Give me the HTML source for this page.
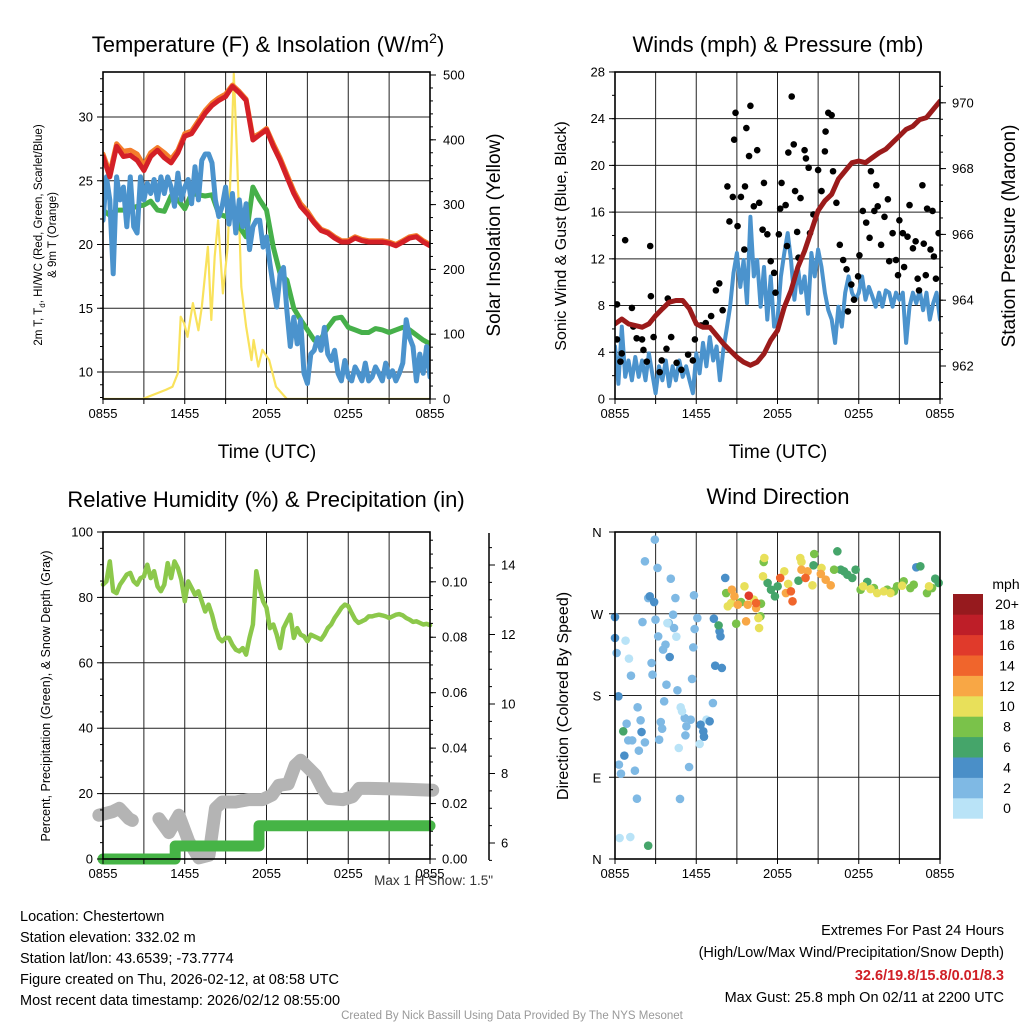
<!DOCTYPE html>
<html><head><meta charset="utf-8">
<style>
html,body{margin:0;padding:0;background:#fff;}
svg{display:block;font-family:"Liberation Sans",Arial,sans-serif;}
</style></head>
<body>
<svg id="fig" width="1024" height="1024" viewBox="0 0 1024 1024" xmlns="http://www.w3.org/2000/svg">
<rect width="1024" height="1024" fill="#fff"/>
<text x="268" y="52" font-size="22" text-anchor="middle">Temperature (F) &amp; Insolation (W/m<tspan font-size="14" dy="-9">2</tspan><tspan dy="9">)</tspan></text>
<text x="778" y="52" font-size="22" text-anchor="middle">Winds (mph) &amp; Pressure (mb)</text>
<text x="266" y="507" font-size="22" text-anchor="middle">Relative Humidity (%) &amp; Precipitation (in)</text>
<text x="778" y="504" font-size="22" text-anchor="middle">Wind Direction</text>

<text transform="translate(42,235) rotate(-90)" font-size="11.5" text-anchor="middle">2m T, T<tspan font-size="8" dy="3">d</tspan><tspan dy="-3">, HI/WC (Red, Green, Scarlet/Blue)</tspan></text>
<text transform="translate(56,235) rotate(-90)" font-size="11.5" text-anchor="middle">&amp; 9m T (Orange)</text>
<text transform="translate(500,235) rotate(-90)" font-size="19" text-anchor="middle">Solar Insolation (Yellow)</text>
<text x="267" y="458" font-size="19" text-anchor="middle">Time (UTC)</text>
<text transform="translate(566,236) rotate(-90)" font-size="16" text-anchor="middle">Sonic Wind &amp; Gust (Blue, Black)</text>
<text transform="translate(1015,236) rotate(-90)" font-size="19" text-anchor="middle">Station Pressure (Maroon)</text>
<text x="778" y="458" font-size="19" text-anchor="middle">Time (UTC)</text>
<text transform="translate(50,696) rotate(-90)" font-size="12.5" text-anchor="middle">Percent, Precipitation (Green), &amp; Snow Depth (Gray)</text>
<text transform="translate(568,696) rotate(-90)" font-size="16" text-anchor="middle">Direction (Colored By Speed)</text>
<text x="493" y="885" font-size="13.5" text-anchor="end" fill="#333">Max 1 H Snow: 1.5"</text>

<g font-size="14.5">
<text x="20" y="921">Location: Chestertown</text>
<text x="20" y="942">Station elevation: 332.02 m</text>
<text x="20" y="963">Station lat/lon: 43.6539; -73.7774</text>
<text x="20" y="984">Figure created on Thu, 2026-02-12, at 08:58 UTC</text>
<text x="20" y="1005">Most recent data timestamp: 2026/02/12 08:55:00</text>
</g>
<g font-size="14.5" text-anchor="end">
<text x="1004" y="935">Extremes For Past 24 Hours</text>
<text x="1004" y="957">(High/Low/Max Wind/Precipitation/Snow Depth)</text>
<text x="1004" y="980" fill="#d01f26" font-weight="bold">32.6/19.8/15.8/0.01/8.3</text>
<text x="1004" y="1002">Max Gust: 25.8 mph On 02/11 at 2200 UTC</text>
</g>
<text x="512" y="1019" font-size="11.5" fill="#999" text-anchor="middle">Created By Nick Bassill Using Data Provided By The NYS Mesonet</text>
<g id="layer"></g>
</svg>
<script>
// ---------- data ----------
const xTickLabels = ["0855","1455","2055","0255","0855"];
const tempRed = [26.9,25.3,27.7,26.9,27.0,26.6,25.8,26.9,27.4,26.8,26.4,27.2,28.5,28.7,29.5,30.3,30.9,31.3,31.6,32.4,31.9,31.3,28.2,28.6,29.0,27.7,26.6,25.3,24.0,23.0,22.4,21.7,21.1,20.9,20.5,20.2,20.2,20.5,20.3,20.2,20.2,20.2,20.1,19.9,20.2,20.5,20.6,20.2,19.9];
const tempOrange = [27.1,25.6,27.9,27.3,27.4,27.1,26.2,27.2,27.6,27.2,26.7,27.4,28.7,28.9,29.7,30.5,31.1,31.5,31.8,32.5,32.0,31.4,28.4,28.7,29.1,27.9,26.8,25.5,24.2,23.2,22.6,21.8,21.2,21.0,20.6,20.3,20.3,20.6,20.4,20.3,20.3,20.3,20.2,20.0,20.3,20.6,20.7,20.3,20.0];
const tempGreen = [22.7,22.3,22.7,22.7,22.8,23.0,23.1,23.4,22.7,22.6,23.8,23.5,22.8,24.0,23.9,23.8,23.9,22.4,22.2,23.0,21.4,20.6,24.5,23.5,22.7,19.8,17.7,17.2,15.0,14.1,13.3,12.5,12.6,13.5,14.2,14.3,13.5,13.3,13.1,13.1,13.4,13.3,13.1,13.3,13.5,13.3,12.9,12.5,12.2];
const tempBlue = [21.9,25.3,23.5,17.7,25.3,23.5,24.5,21.4,25.3,21.4,20.9,25.3,23.5,24.8,24.0,25.1,23.5,25.3,24.0,25.3,24.5,23.0,25.6,23.5,24.5,25.1,23.2,26.1,23.5,26.6,27.1,27.1,26.4,23.5,22.2,23.0,24.5,21.6,24.0,20.9,23.5,21.4,23.2,19.6,21.4,21.9,21.9,19.8,20.6,18.5,16.7,15.1,17.7,18.2,14.8,12.0,14.3,12.2,14.1,9.9,9.1,11.4,11.7,12.7,11.7,13.5,11.4,10.9,11.7,9.9,9.3,10.9,9.6,9.3,10.4,9.9,9.3,10.7,9.3,9.6,10.4,9.9,9.3,10.7,9.6,10.1,9.3,9.9,10.7,14.1,12.7,12.0,9.3,11.4,9.9,12.0,9.6];
const solarHours = [0,2.9,4.6,5.1,5.5,5.7,5.95,6.2,6.6,7.0,7.25,7.7,7.95,8.2,8.45,8.8,9.15,9.4,9.6,9.85,10.15,10.5,10.9,11.05,11.4,11.7,12.2,12.7,13.5,24];
const solarVals = [0,0,14,19,40,127,117,96,148,106,142,235,122,220,276,163,235,369,502,369,173,112,60,91,50,76,60,19,0,0];
const windVals = [4.5,1.3,6.2,1.9,3.3,1.6,3.6,1.9,3.3,1.6,3.9,2.2,0.5,2.8,1.6,3.3,1.1,2.8,1.6,3.3,1.9,2.8,1.6,0.5,3.9,2.2,4.8,2.8,5.3,3.3,4.5,1.6,4.2,6.0,7.9,10.8,12.5,9.6,11.9,8.2,15.6,10.5,11.9,7.9,11.3,6.8,10.5,6.2,6.8,10.5,12.5,14.2,11.9,8.5,11.3,9.1,10.5,7.3,12.5,10.5,12.8,11.3,9.1,7.6,6.8,4.8,7.9,6.2,9.1,10.5,9.1,8.5,9.1,10.5,8.5,9.6,8.8,7.9,9.1,7.9,9.3,9.1,7.9,9.1,8.5,9.1,4.8,7.9,9.1,8.2,9.3,7.6,9.1,6.8,8.2,9.1,6.8];
const pressVals = [963.28,963.43,963.28,963.23,963.18,963.28,963.53,963.74,963.94,963.99,963.99,963.74,963.28,963.18,963.18,962.93,962.68,962.47,962.27,962.12,962.02,962.12,962.37,962.78,963.08,963.79,964.29,965.0,965.5,966.11,966.72,967.02,967.22,967.68,967.93,968.18,968.23,968.18,968.33,968.48,968.59,968.79,968.99,969.19,969.29,969.49,969.55,969.8,970.05];
const gustHours = [0.15,0.15,0.4,0.5,0.75,1.25,1.35,1.6,2.0,2.1,2.35,2.6,2.65,2.85,3.3,3.45,3.8,3.9,4.15,4.55,4.9,5.4,5.75,5.9,6.35,6.7,7.1,7.45,7.7,7.95,8.3,8.45,8.7,8.8,8.9,9.05,9.3,9.55,9.6,9.7,9.9,10.0,10.25,10.5,10.65,10.9,11.0,11.25,11.5,11.75,11.85,12.1,12.2,12.3,12.6,12.7,12.8,13.05,13.2,13.3,13.45,13.55,13.7,14.0,14.1,14.3,14.4,14.65,15.0,15.25,15.5,15.55,15.75,16.0,16.1,16.35,16.6,16.85,17.1,17.2,17.45,17.65,17.95,18.05,18.3,18.55,18.8,18.9,19.15,19.3,19.4,19.65,19.9,20.15,20.25,20.5,20.75,20.9,21.0,21.25,21.35,21.6,21.75,22.0,22.2,22.35,22.45,22.7,22.8,22.95,23.05,23.3,23.45,23.55,23.7,23.9];
const gustVals = [8.1,5.1,3.2,3.9,13.6,7.8,6.2,5.2,5.1,4.2,3.2,13.1,8.8,5.3,2.3,3.3,4.3,8.6,5.3,3.1,2.5,3.8,3.3,5.1,6.3,6.5,7.1,9.3,9.9,7.6,18.2,15.2,17.3,22.2,24.5,14.8,17.3,12.8,18.2,23.2,20.8,25.1,16.5,21.3,16.8,14.5,18.5,14.1,11.8,10.8,9.1,14.1,16.3,18.5,16.6,13.1,21.1,25.9,21.8,17.8,14.3,12.1,17.2,21.3,20.6,19.8,14.2,15.8,19.6,17.8,21.2,22.9,24.5,24.3,19.5,16.8,13.2,11.9,11.1,7.5,9.8,8.5,10.5,12.3,16.1,15.1,13.8,19.5,16.1,18.3,16.5,13.2,15.6,17.1,11.8,14.2,11.9,10.6,15.3,14.2,11.3,13.9,16.6,12.9,13.5,10.3,9.3,18.3,13.3,10.6,16.3,12.8,16.1,12.2,10.3,14.2];
const rhVals = [83.9,84.9,91.0,81.9,81.3,83.9,85.4,87.0,87.5,84.9,83.9,85.9,86.4,90.0,85.9,88.0,83.4,81.9,83.9,90.5,85.9,91.0,89.0,85.4,78.8,84.9,82.9,80.8,81.9,78.8,75.7,77.8,74.7,70.6,67.6,66.6,67.6,67.6,65.5,64.0,63.5,64.5,62.5,67.6,71.7,88.0,82.9,78.8,76.8,70.6,71.7,68.6,64.5,70.6,72.7,74.7,67.6,70.6,68.6,68.1,66.6,68.6,68.1,67.6,67.1,68.6,70.6,71.7,73.7,75.2,76.8,77.8,77.3,75.2,73.2,72.2,72.7,73.2,74.2,74.2,74.5,74.7,74.5,74.2,73.7,74.2,74.7,74.9,74.5,73.7,73.2,72.5,72.7,72.2,71.7,71.9,71.5];
const precipHours = [0,5.3,5.3,11.45,11.45,24];
const precipVals = [0,0,0.0047,0.0047,0.012,0.012];
const snowHours = [-0.3,0.7,1.2,1.9,2.15,null,4.1,4.84,5.57,6.3,7.04,7.78,8.26,8.75,9.73,10.7,11.7,12.4,12.9,13.6,14.1,14.5,15.1,15.6,16.1,16.6,17.6,18.3,18.8,19.5,22.0,24.2];
const snowVals = [6.8,6.9,7.0,6.7,6.65,null,6.7,6.3,6.8,6.04,5.57,5.65,7.0,7.18,7.18,7.25,7.25,7.38,7.66,7.7,8.23,8.38,8.15,7.95,7.57,7.28,7.25,7.33,7.57,7.57,7.55,7.52];
const speedLabels = ["0","2","4","6","8","10","12","14","16","18","20+"];
const dirHours = [2.94,2.21,3.14,4.12,2.45,4.46,5.83,4.29,2.03,2.99,3.97,4.36,3.19,3.73,3.55,2.70,2.77,1.18,3.80,4.61,5.69,5.78,5.88,6.08,3.63,1.67,1.89,0.86,3.38,3.48,3.26,2.21,0.98,1.27,1.76,0.29,0.44,1.47,5.47,5.15,5.27,5.20,5.59,7.23,1.62,4.80,0.12,
 0.78,1.03,4.53,4.85,4.95,4.71,6.25,3.87,0.34,1.13,6.76,
 8.14,2.57,2.89,7.30,7.72,7.79,4.04,7.40,7.89,0.0,0.25,0.0,1.96,0.69,6.32,6.52,6.57,6.99,22.25,
 2.45,0.61,7.65,11.27,11.52,11.81,12.01,13.55,14.66,16.42,16.91,17.52,17.77,18.63,22.55,23.65,23.9,17.16,16.67,
 8.21,8.95,9.31,10.78,10.74,10.98,14.71,16.18,20.1,20.59,20.83,21.32,21.81,22.06,23.04,23.41,19.12,18.14,
 11.03,10.93,8.33,9.56,10.25,10.64,10.59,12.5,12.79,13.68,13.77,14.58,15.25,18.33,18.87,19.36,19.85,20.34,21.2,23.19,8.58,
 8.63,8.82,9.8,9.68,10.42,12.62,13.77,14.22,15.2,15.56,15.93,9.07,
 12.2,12.99,13.11,14.07,10.42,
 9.88];
const dirDegs = [351.6,327.7,320.4,308.6,287.3,287.3,290.3,269,260.9,263.5,259.8,254.3,245.1,236,230.5,215.8,202.9,201.8,191.9,185.7,198.2,233,253.2,265.3,173.6,167,152.7,149,150.8,143.5,131.4,128.4,130.6,130.6,119.3,103.9,93.9,97.2,101.3,155.2,146.1,136.1,153.4,171.7,66.4,66.1,226.8,
 240.4,220.6,244.8,167,162.6,122.2,126.6,259.8,23.1,24.2,153.4,
 309.4,289.2,282.9,264.6,250.6,245.1,222.4,212.8,210.3,266.4,179.1,243.3,139.8,113.8,147.9,140.6,134.7,151.6,321.1,
 14.7,140.6,257.2,303.9,296.5,289.2,300.2,306.4,323.3,338.7,316.7,309.4,318.5,305,322.2,308.6,303.9,313,318.5,
 292.8,259.1,282.9,281.1,267.2,327,335.8,318.5,296.5,294.7,300.2,305.7,298.3,302,292.8,298.3,298.3,296.5,
 331.4,311.2,278.2,300.2,285.5,254.3,265.3,316.7,302.8,331.4,327,301.3,320.4,300.2,297.2,292.8,294.7,292.8,300.9,300.2,281.8,
 296.5,289.2,280,261.7,276.3,292.8,318.5,316.7,313.8,307.5,301.3,280,
 309.4,294.7,283.7,309.4,281.8,
 289.9];
const dirSpeeds = [2,2,2,2,2,2,2,2,2,2,2,2,2,2,2,2,2,2,2,2,2,2,2,2,2,2,2,2,2,2,2,2,2,2,2,2,2,2,2,2,2,2,2,2,2,2,2,
 0,0,0,0,0,0,0,0,0,0,0,
 4,4,4,4,4,4,4,4,4,4,4,4,4,4,4,4,4,4,4,
 6,6,6,6,6,6,6,6,6,6,6,6,6,6,6,6,6,6,6,
 8,8,8,8,8,8,8,8,8,8,8,8,8,8,8,8,8,8,
 10,10,10,10,10,10,10,10,10,10,10,10,10,10,10,10,10,10,10,10,10,
 12,12,12,12,12,12,12,12,12,12,12,12,
 14,14,14,14,14,
 16];

// ---------- helpers ----------
const NS = "http://www.w3.org/2000/svg";
const layer = document.getElementById('layer');
function mk(tag, attrs, parent) {
  const e = document.createElementNS(NS, tag);
  for (const k in attrs) e.setAttribute(k, attrs[k]);
  (parent || layer).appendChild(e);
  return e;
}
const speedColors = ["#b9e3f7","#7fb9e4","#4a8fc8","#45a56a","#7ac24a","#e8e05a","#f8a745","#f0652c","#e03a2b","#be1e28","#961a1e"];
function colorFor(s){ let i = Math.round(s/2); if(i<0)i=0; if(i>10)i=10; return speedColors[i]; }

function makeX(x0,x1){ return h => x0 + (h/24)*(x1-x0); }
function uniformHours(n){ const a=[]; for(let i=0;i<n;i++) a.push(i*24/(n-1)); return a; }
function linePath(hours, vals, xf, yf){
  let d = ""; let pen = false;
  for (let i=0;i<vals.length;i++){
    if (vals[i]===null || hours[i]===null || hours[i]===undefined){ pen=false; continue; }
    d += (pen?"L":"M") + xf(hours[i]).toFixed(1) + "," + yf(vals[i]).toFixed(1);
    pen = true;
  }
  return d;
}
function frame(x0,y0,x1,y1,name){
  const r = mk('rect',{x:x0,y:y0,width:x1-x0,height:y1-y0,fill:'none',stroke:'#000','stroke-width':1.6});
  
  
}
function vgrid(x0,y0,x1,y1,name){
  const g = mk('g',{stroke:'#222','stroke-width':1});
  
  
  const xf = makeX(x0,x1);
  for (let h=3; h<24; h+=3){ mk('line',{x1:xf(h),x2:xf(h),y1:y0,y2:y1},g); }
  return g;
}
function hgrid(x0,x1,ys,name){
  const g = mk('g',{stroke:'#222','stroke-width':1});
  
  
  ys.forEach(y=>mk('line',{x1:x0,x2:x1,y1:y,y2:y},g));
}
function xTicks(x0,x1,yb,name){
  const g = mk('g',{});
  
  
  const xf = makeX(x0,x1);
  for (let h=0; h<=24; h+=3) mk('line',{x1:xf(h),x2:xf(h),y1:yb,y2:yb+5,stroke:'#000','stroke-width':1},g);
  xTickLabels.forEach((t,i)=>{
    const tx = mk('text',{x:xf(i*6),y:yb+19,'font-size':13,'text-anchor':'middle'},g);
    tx.textContent = t;
  });
}
function yTicks(xa, side, ticks, yf, minorStep, lo, hi, fmt, name, labelOff){
  const g = mk('g',{});
  
  
  const dir = side==='left' ? -1 : 1;
  for (let v=lo; v<=hi+1e-9; v+=minorStep){
    const y = yf(v);
    mk('line',{x1:xa,x2:xa+dir*3,y1:y,y2:y,stroke:'#000','stroke-width':1},g);
  }
  ticks.forEach(v=>{
    const y = yf(v);
    mk('line',{x1:xa,x2:xa+dir*6,y1:y,y2:y,stroke:'#000','stroke-width':1},g);
    const tx = mk('text',{x:xa+dir*(labelOff||10),y:y+4.5,'font-size':13,'text-anchor':side==='left'?'end':'start'},g);
    tx.textContent = fmt(v);
  });
}

// ---------- Panel 1: temperature ----------
(function(){
  const x0=103,x1=430,y0=72,y1=399;
  const xf = makeX(x0,x1);
  const tY = T => 372 - (T-10)*12.75;
  const sY = W => 399 - W*0.648;
  vgrid(x0,y0,x1,y1,'temp-vertical-grid');
  hgrid(x0,x1,[10,15,20,25,30].map(tY),'temp-horizontal-grid');
  const clip = mk('clipPath',{id:'c1'}); mk('rect',{x:x0,y:y0,width:x1-x0,height:y1-y0},clip);
  const g = mk('g',{'clip-path':'url(#c1)',fill:'none','stroke-linejoin':'round','stroke-linecap':'round'});
  
  
  const solar = mk('path',{d:linePath(solarHours,solarVals,xf,sY),stroke:'#f9e25c','stroke-width':2.2},g);
  
  
  const gr = mk('path',{d:linePath(uniformHours(tempGreen.length),tempGreen,xf,tY),stroke:'#46b04a','stroke-width':5},g);
  
  
  const bl = mk('path',{d:linePath(uniformHours(tempBlue.length),tempBlue,xf,tY),stroke:'#4b93cd','stroke-width':5},g);
  
  
  const or = mk('path',{d:linePath(uniformHours(tempOrange.length),tempOrange,xf,tY),stroke:'#f47d2b','stroke-width':5},g);
  
  
  const rd = mk('path',{d:linePath(uniformHours(tempRed.length),tempRed,xf,tY),stroke:'#d42027','stroke-width':5},g);
  
  
  frame(x0,y0,x1,y1,'temp-plot-frame');
  xTicks(x0,x1,y1,'temp-x-axis');
  yTicks(x0,'left',[10,15,20,25,30],tY,1,8,33,v=>String(v),'temp-y-axis');
  yTicks(x1,'right',[0,100,200,300,400,500],sY,20,0,500,v=>String(v),'solar-y-axis',13);
})();

// ---------- Panel 2: winds ----------
(function(){
  const x0=615,x1=940,y0=72,y1=399;
  const xf = makeX(x0,x1);
  const wY = m => 399 - m*11.68;
  const pY = p => 366 - (p-962)*32.9;
  vgrid(x0,y0,x1,y1,'wind-vertical-grid');
  hgrid(x0,x1,[4,8,12,16,20,24].map(wY),'wind-horizontal-grid');
  const clip = mk('clipPath',{id:'c2'}); mk('rect',{x:x0,y:y0,width:x1-x0,height:y1-y0},clip);
  const g = mk('g',{'clip-path':'url(#c2)',fill:'none','stroke-linejoin':'round','stroke-linecap':'round'});
  
  
  const w = mk('path',{d:linePath(uniformHours(windVals.length),windVals,xf,wY),stroke:'#4b93cd','stroke-width':4},g);
  
  
  const dots = mk('g',{fill:'#000'},g);
  
  
  gustVals.forEach((v,i)=>{
    const c = mk('circle',{cx:xf(gustHours[i]),cy:wY(v),r:3.3},dots);
    
    
  });
  const p = mk('path',{d:linePath(uniformHours(pressVals.length),pressVals,xf,pY),stroke:'#9b1b1b','stroke-width':5},g);
  
  
  frame(x0,y0,x1,y1,'wind-plot-frame');
  xTicks(x0,x1,y1,'wind-x-axis');
  yTicks(x0,'left',[0,4,8,12,16,20,24,28],wY,2,0,28,v=>String(v),'wind-y-axis');
  yTicks(x1,'right',[962,964,966,968,970],pY,0.5,961,970.5,v=>String(v),'pressure-y-axis',12);
})();

// ---------- Panel 3: RH / precip / snow ----------
(function(){
  const x0=103,x1=430,y0=532,y1=859;
  const xf = makeX(x0,x1);
  const rhY = r => 859 - r*3.27;
  const prY = p => 859 - p*2772;
  const snY = s => 843 - (s-6)*34.75;
  vgrid(x0,y0,x1,y1,'rh-vertical-grid');
  hgrid(x0,x1,[20,40,60,80].map(rhY),'rh-horizontal-grid');
  const g = mk('g',{fill:'none','stroke-linejoin':'round','stroke-linecap':'round'});
  
  
  const sn = mk('path',{d:linePath(snowHours,snowVals,xf,snY),stroke:'#b4b4b4','stroke-width':13},g);
  
  
  const pr = mk('path',{d:linePath(precipHours,precipVals,xf,prY),stroke:'#46b446','stroke-width':11},g);
  
  
  const rh = mk('path',{d:linePath(uniformHours(rhVals.length),rhVals,xf,rhY),stroke:'#8cc84b','stroke-width':4.5},g);
  
  
  frame(x0,y0,x1,y1,'rh-plot-frame');
  xTicks(x0,x1,y1,'rh-x-axis');
  yTicks(x0,'left',[0,20,40,60,80,100],rhY,5,0,100,v=>String(v),'rh-y-axis');
  yTicks(x1,'right',[0,0.02,0.04,0.06,0.08,0.10],prY,0.005,0,0.115,v=>v.toFixed(2),'precip-y-axis',12);
  const ax = mk('line',{x1:489,x2:489,y1:533,y2:860,stroke:'#000','stroke-width':1.5});
  
  
  yTicks(489,'right',[6,8,10,12,14],snY,0.5,5.5,14.5,v=>String(v),'snow-y-axis',12);
})();

// ---------- Panel 4: wind direction ----------
(function(){
  const x0=615,x1=940,y0=532,y1=859;
  const xf = makeX(x0,x1);
  const dY = d => 859 - d*0.9083;
  vgrid(x0,y0,x1,y1,'dir-vertical-grid');
  hgrid(x0,x1,[90,180,270].map(dY),'dir-horizontal-grid');
  const g = mk('g',{});
  
  
  dirDegs.forEach((d,i)=>{
    const c = mk('circle',{cx:xf(dirHours[i]),cy:dY(d),r:4.3,fill:colorFor(dirSpeeds[i])},g);
    
    
  });
  frame(x0,y0,x1,y1,'dir-plot-frame');
  xTicks(x0,x1,y1,'dir-x-axis');
  const dirLabels = ["N","E","S","W","N"];
  const ly = mk('g',{});
  
  
  dirLabels.forEach((t,i)=>{
    const y = dY(i*90);
    mk('line',{x1:x0,x2:x0-6,y1:y,y2:y,stroke:'#000'},ly);
    const tx = mk('text',{x:x0-18,y:y+5,'font-size':13,'text-anchor':'middle'},ly);
    tx.textContent = t;
  });
  // colorbar
  const cb = mk('g',{});
  
  
  const mph = mk('text',{x:1006,y:589,'font-size':14,'text-anchor':'middle'},cb);
  mph.textContent = 'mph';
  const bh = 20.4;
  speedLabels.forEach((t,i)=>{
    const k = speedLabels.length-1-i;
    const y = 594 + k*bh;
    const r = mk('rect',{x:953,y:y,width:30,height:bh+0.3,fill:speedColors[i]},cb);
    
    
    const tx = mk('text',{x:1007,y:y+bh/2+5,'font-size':14,'text-anchor':'middle'},cb);
    tx.textContent = t;
  });
})();
</script>
</body></html>
